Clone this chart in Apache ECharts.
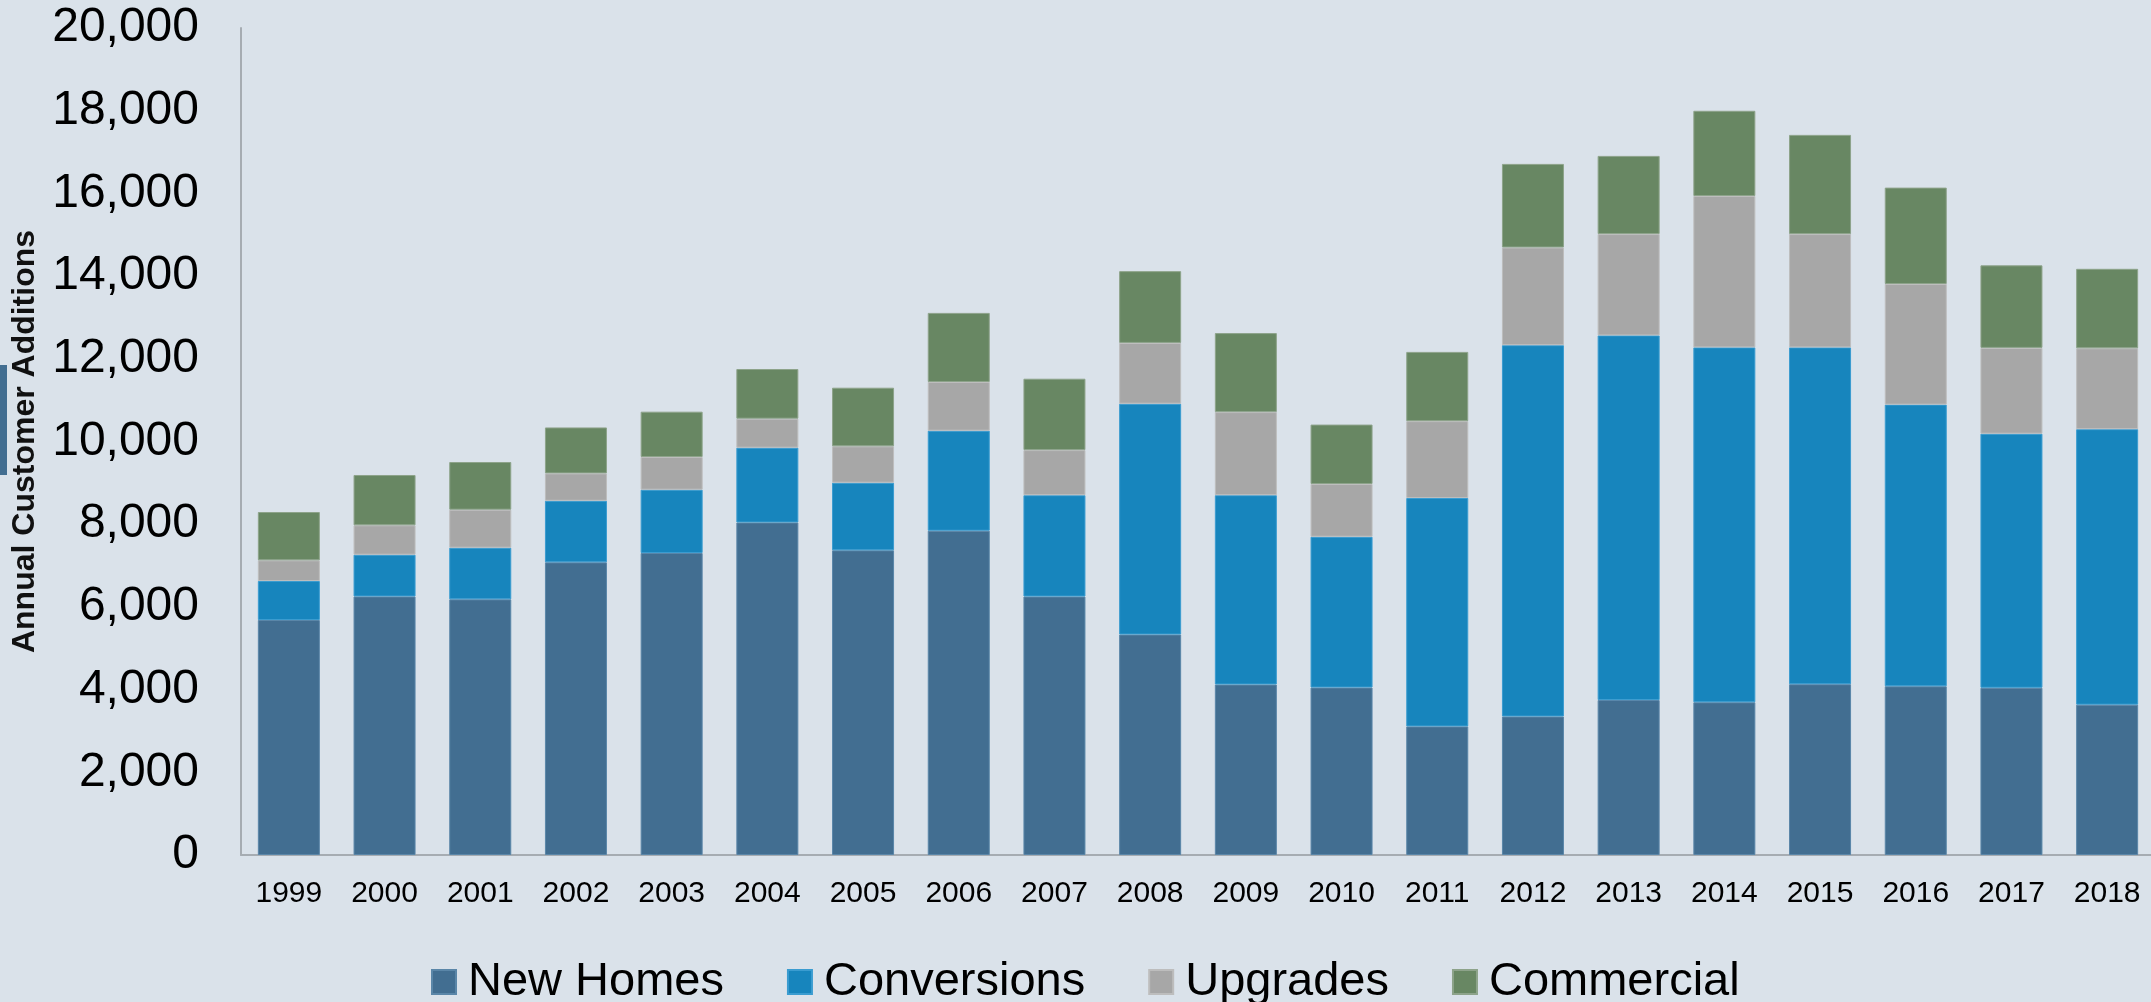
<!DOCTYPE html>
<html>
<head>
<meta charset="utf-8">
<script src="https://cdn.jsdelivr.net/npm/echarts@6/dist/echarts.min.js"></script>
<style>
html,body{margin:0;padding:0;background:#DAE2EA;}
#chart{width:2151px;height:1002px;}
</style>
</head>
<body>
<div id="chart"></div>
<script>
const years = ['1999','2000','2001','2002','2003','2004','2005','2006','2007','2008','2009','2010','2011','2012','2013','2014','2015','2016','2017','2018'];
const newHomes    = [5683,6253,6182,7077,7303,8042,7368,7843,6251,5332,4123,4050,3110,3350,3747,3693,4130,4080,4045,3636];
const conversions = [943,1010,1250,1490,1532,1809,1636,2418,2450,5582,4578,3647,5524,8979,8819,8583,8146,6812,6144,6662];
const upgrades    = [500,710,919,662,790,701,879,1178,1091,1470,2010,1275,1858,2363,2451,3661,2741,2917,2075,1956];
const commercial  = [1169,1217,1153,1111,1096,1201,1418,1671,1726,1736,1911,1437,1675,2021,1890,2061,2398,2331,1996,1922];
const seriesNames = ['New Homes','Conversions','Upgrades','Commercial'];
const yTicks = [0,2000,4000,6000,8000,10000,12000,14000,16000,18000,20000];
const yTitle = 'Annual Customer Additions';

const colors = ['#426E91','#1785BD','#A7A7A7','#688763'];
const borders = ['#5A86A8','#3A9CD0','#BDBDBD','#8DA38A'];
const dataSets = [newHomes, conversions, upgrades, commercial];

const chart = echarts.init(document.getElementById('chart'), null, {renderer:'canvas'});
const fmt = v => String(v).replace(/\B(?=(\d{3})+(?!\d))/g, ',');

chart.setOption({
  backgroundColor: '#DAE2EA',
  animation: false,
  textStyle: {fontFamily: 'Liberation Sans, Arial, sans-serif'},
  grid: {left: 241, top: 28, width: 1914, height: 827, containLabel: false, outerBoundsMode: 'none'},
  legend: {
    data: seriesNames,
    left: 426, top: 953,
    icon: 'rect', itemWidth: 24, itemHeight: 24, itemGap: 63,
    textStyle: {fontSize: 47, color: '#000', padding: [0,0,0,7], lineHeight: 48, fontFamily: 'Liberation Sans, Arial, sans-serif'}
  },
  xAxis: {
    type: 'category', data: years,
    axisLine: {lineStyle: {color: '#A6ACB2', width: 2}},
    axisTick: {show: false},
    axisLabel: {fontSize: 30, color: '#000', margin: 24, interval: 0}
  },
  yAxis: {
    type: 'value', min: yTicks[0], max: yTicks[yTicks.length-1], interval: yTicks[1]-yTicks[0],
    name: yTitle, nameLocation: 'middle', nameGap: 198, nameRotate: 90,
    nameTextStyle: {fontSize: 32, fontWeight: 'bold', color: '#111'},
    axisLine: {show: true, lineStyle: {color: '#A6ACB2', width: 2}},
    axisTick: {show: false},
    splitLine: {show: false},
    axisLabel: {fontSize: 48, color: '#000', margin: 42, formatter: v => fmt(v)}
  },
  graphic: [{type: 'rect', left: 0, top: 365, shape: {width: 7, height: 110}, style: {fill: '#426E91'}}],
  series: seriesNames.map((n, i) => ({
    name: n, type: 'bar', stack: 'total', data: dataSets[i], barWidth: 62,
    itemStyle: {color: colors[i], borderColor: borders[i], borderWidth: 1}
  }))
});
</script>
</body>
</html>
